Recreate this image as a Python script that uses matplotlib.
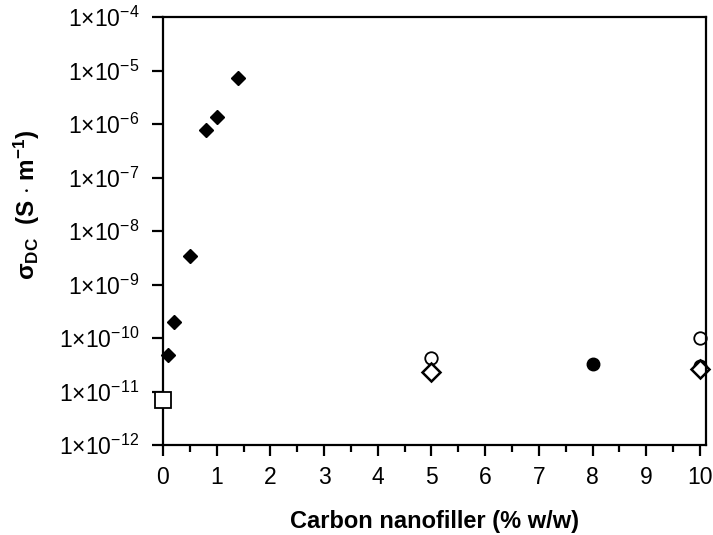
import math
import matplotlib
matplotlib.use("Agg")
import matplotlib.pyplot as plt
from matplotlib.ticker import FixedLocator, MultipleLocator, FuncFormatter, NullLocator

plt.rcParams['font.family'] = ['Liberation Sans', 'DejaVu Sans']
plt.rcParams['mathtext.fontset'] = 'custom'
plt.rcParams['mathtext.rm'] = 'Liberation Sans'
plt.rcParams['mathtext.it'] = 'Liberation Sans:italic'
plt.rcParams['mathtext.bf'] = 'Liberation Sans:bold'

# filled diamonds
fd_x = [0.1, 0.2, 0.5, 0.8, 1.0, 1.4]
fd_y = [4.8e-11, 2.0e-10, 3.5e-9, 7.7e-7, 1.35e-6, 7.4e-6]
# open square (neat polymer)
sq_x = [0]
sq_y = [7.0e-12]
# open circles
oc_x = [5, 10]
oc_y = [4.2e-11, 1.0e-10]
# open diamonds
od_x = [5, 10]
od_y = [2.3e-11, 2.6e-11]
# filled circles
fc_x = [8, 10]
fc_y = [3.3e-11, 3.0e-11]

fig = plt.figure(figsize=(7.13, 5.35), dpi=100)
ax = fig.add_axes([0.2286, 0.168, 0.7614, 0.800])

ax.plot(fd_x, fd_y, 'D', color='black', markersize=7.5, linestyle='none', clip_on=False)
ax.plot(fc_x, fc_y, 'o', color='black', markersize=9, linestyle='none', clip_on=False)
ax.plot(oc_x, oc_y, 'o', mfc='white', mec='black', mew=1.3, markersize=9, linestyle='none', clip_on=False)
ax.plot(od_x, od_y, 'D', mfc='white', mec='black', mew=1.8, markersize=9, linestyle='none', clip_on=False)
ax.plot(sq_x, sq_y, 's', mfc='white', mec='black', mew=1.3, markersize=11, linestyle='none', clip_on=False, zorder=5)

ax.set_yscale('log')
ax.set_ylim(1e-12, 1e-4)
ax.set_xlim(0, 10.11)

ax.yaxis.set_major_locator(FixedLocator([10.0 ** e for e in range(-12, -3)]))
ax.yaxis.set_minor_locator(NullLocator())


def sci(v, pos):
    e = int(round(math.log10(v)))
    return r'1$\times$10$^{%d}$' % e


ax.yaxis.set_major_formatter(FuncFormatter(sci))
ax.xaxis.set_major_locator(MultipleLocator(1))
ax.xaxis.set_minor_locator(MultipleLocator(0.5))

for s in ax.spines.values():
    s.set_linewidth(1.6)

ax.tick_params(axis='both', which='major', direction='out', length=8, width=1.6, labelsize=16.5)
ax.tick_params(axis='y', which='major', pad=9)
ax.tick_params(axis='x', which='major', pad=7)
ax.tick_params(axis='x', which='minor', direction='out', length=5, width=1.6)

ax.set_xlabel('Carbon nanofiller (% w/w)', fontsize=17, fontweight='bold')
ax.set_ylabel(r'$\mathbf{\sigma_{DC}}$  (S $\cdot$ m$^{\mathbf{-1}}$)', fontsize=17.5, fontweight='bold')
ax.xaxis.set_label_coords(0.5, -0.178)
ax.xaxis.label.set_va('center')
ax.yaxis.set_label_coords(-0.25, 0.561)
ax.yaxis.label.set_va('center')

fig.savefig('out.png', dpi=100)
